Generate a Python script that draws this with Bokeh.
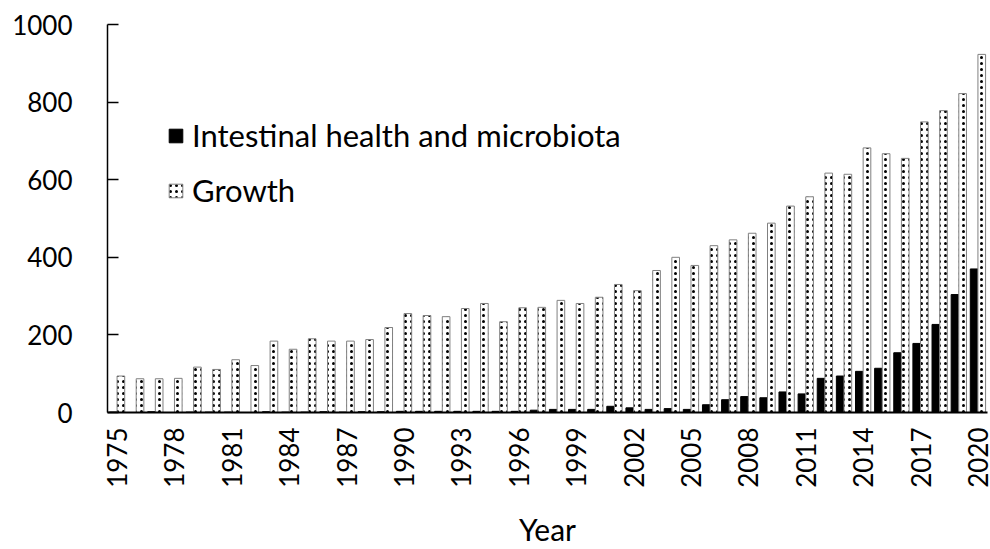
import math
from bokeh.plotting import figure
from bokeh.models import Range1d, FixedTicker, Legend, LegendItem, ColumnDataSource, PrintfTickFormatter
from bokeh.embed import file_html
from bokeh.resources import INLINE

years = list(range(1975, 2021))
intestinal = [1, 0, 2, 0, 1, 1, 1, 0, 2, 1, 1, 2, 1, 2, 2,
              3, 3, 3, 3, 3, 3, 3, 6, 8, 8,
              8, 16, 12, 8, 10, 8, 20, 33, 41, 38,
              53, 48, 88, 94, 106, 114, 154, 178, 227, 304, 370]
growth = [94, 87, 87, 88, 117, 111, 136, 121, 184, 163, 190, 184, 184, 188, 219,
          255, 250, 247, 268, 281, 234, 270, 271, 289, 281,
          297, 330, 314, 366, 400, 379, 430, 445, 462, 488,
          532, 556, 617, 614, 682, 667, 655, 749, 778, 822, 923]
tick_years = list(range(1975, 2021, 3))
y_ticks = [0, 200, 400, 600, 800, 1000]
series_names = ["Intestinal health and microbiota", "Growth"]

FONT = "Lato"

src = ColumnDataSource(dict(
    x_a=[y - 0.2 for y in years],
    x_b=[y + 0.2 for y in years],
    intestinal=intestinal,
    growth=growth,
))

p = figure(width=990, height=549, output_backend="svg", toolbar_location=None,
           x_range=Range1d(1974.5, 2020.5), y_range=Range1d(0, 1000),
           min_border_left=107, min_border_right=3, min_border_top=24, min_border_bottom=137)

r1 = p.vbar(x="x_a", top="intestinal", width=0.4, source=src,
            fill_color="black", line_color="black", line_width=1)
r2 = p.vbar(x="x_b", top="growth", width=0.4, source=src,
            fill_color="white", line_color="#808080", line_width=1,
            hatch_pattern="dot", hatch_color="black", hatch_scale=6, hatch_weight=1.3)

p.xgrid.visible = False
p.ygrid.visible = False
p.outline_line_color = None
p.background_fill_color = "white"
p.border_fill_color = "white"

xa = p.xaxis[0]
xa.ticker = FixedTicker(ticks=tick_years)
xa.formatter = PrintfTickFormatter(format="%d")
xa.major_label_orientation = math.pi / 2
xa.major_tick_in = 0
xa.major_tick_out = 0
xa.minor_tick_in = 0
xa.minor_tick_out = 0
xa.major_label_standoff = 15
xa.major_label_text_font = FONT
xa.major_label_text_font_size = "26px"
xa.major_label_text_color = "black"
xa.axis_line_width = 2
xa.axis_line_color = "black"
xa.axis_label = "Year"
xa.axis_label_text_font = FONT
xa.axis_label_text_font_size = "30px"
xa.axis_label_text_font_style = "normal"
xa.axis_label_text_color = "black"
xa.axis_label_standoff = 20

ya = p.yaxis[0]
ya.ticker = FixedTicker(ticks=y_ticks)
ya.major_tick_in = 11
ya.major_tick_out = 0
ya.minor_tick_in = 0
ya.minor_tick_out = 0
ya.major_tick_line_width = 1.5
ya.major_label_standoff = 35
ya.major_label_text_font = FONT
ya.major_label_text_font_size = "26px"
ya.major_label_text_color = "black"
ya.axis_line_width = 1.5
ya.axis_line_color = "black"

legend = Legend(items=[LegendItem(label=series_names[0], renderers=[r1]),
                       LegendItem(label=series_names[1], renderers=[r2])],
                location=(60, 203), orientation="vertical",
                glyph_width=17, glyph_height=17, label_height=20, spacing=17,
                label_standoff=8, padding=0, margin=0,
                border_line_color=None, background_fill_alpha=0,
                label_text_font=FONT, label_text_font_size="31px", label_text_color="black")
p.add_layout(legend, "center")

open("out.html", "w").write(file_html(p, INLINE))
